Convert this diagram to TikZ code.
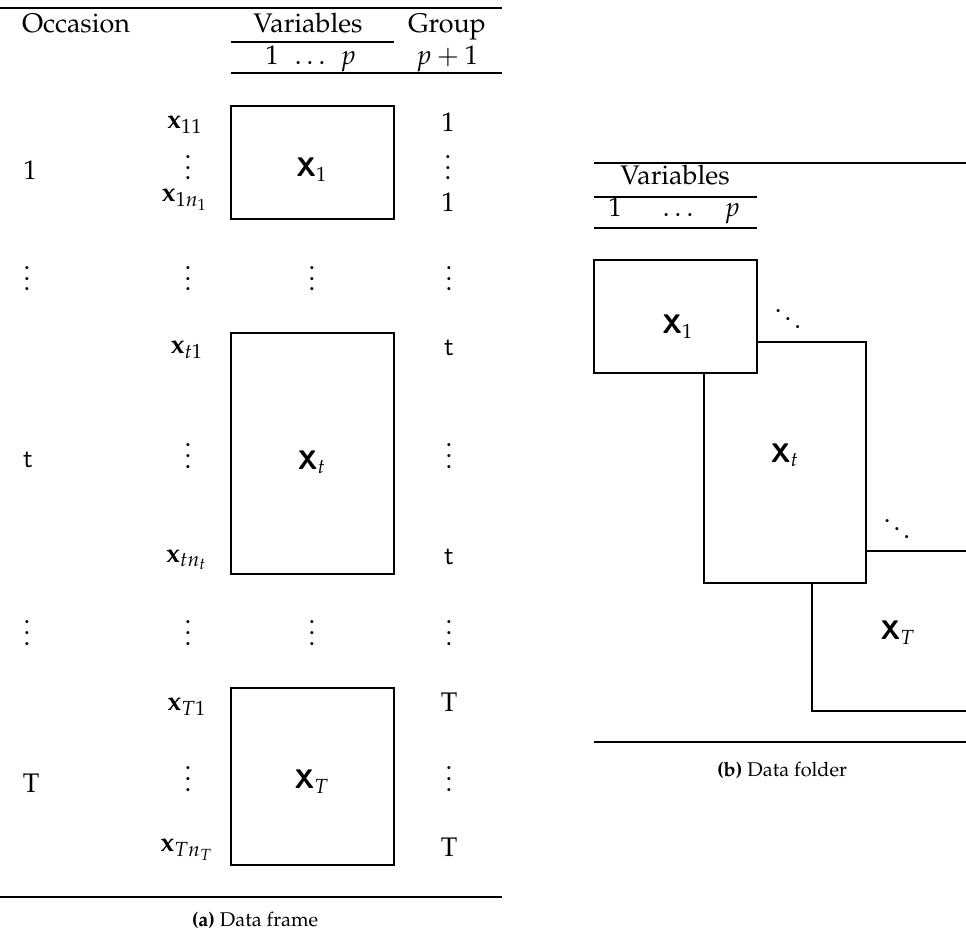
\documentclass[tikz,border=0pt]{standalone}
\usepackage[T1]{fontenc}
\usepackage{amsmath,amsfonts,amssymb}
\usepackage{mathpazo}
\usepackage{tikz}
\usetikzlibrary{fit}

\newcommand{\tvdots}{\vbox{\baselineskip4pt \lineskiplimit0pt \hbox{.}\hbox{.}\hbox{.}}}
\newcommand{\sfx}[1]{{\fontencoding{OT1}\fontfamily{cmss}\selectfont #1}}
\newcommand{\bX}{\sfx{\bfseries X}}

\begin{document}
\begin{tikzpicture}[x=0.372pt, y=-0.372pt,
		head_style/.style={inner sep=0pt, anchor=base},
		cell_style/.style={inner sep=0pt},
		dots_style/.style={inner sep=0pt, anchor=base},
		box_style/.style={draw=black, line width=0.45pt, fill=white, inner sep=0pt},
		rule_style/.style={draw=black, line width=0.6pt},
		cap_style/.style={inner sep=0pt, font=\fontsize{7.4}{9}\selectfont}]

		\useasboundingbox (0,0) rectangle (966,931);

		% (a) data frame
		\node[head_style] (hocc) at (76,33)  {Occasion};
		\node[head_style] (hvar) at (308,33)  {Variables};
		\node[head_style] (hgrp) at (447,33)  {Group};
		\node[head_style] (hv1) at (272,65)  {$1$};
		\node[head_style] (hvd) at (310,65)  {$\ldots$};
		\node[head_style] (hvp) at (348,65)  {$p$};
		\node[head_style] (hgp) at (447,65)  {$p+1$};

		\node[box_style, fit={(231,106) (394,219)}] (a1) {};
		\node[box_style, fit={(231,333) (394,574)}] (at) {};
		\node[box_style, fit={(231,688) (394,865)}] (aT) {};
		\node[cell_style] (la1) at (312,170)  {\bX$_1$};
		\node[cell_style] (lat) at (312,462)  {\bX$_t$};
		\node[cell_style] (laT) at (312,782)  {\bX$_T$};

		\node[cell_style] (o1) at (30,170)  {1};
		\node[cell_style] (ot) at (28,460)  {\sfx{t}};
		\node[cell_style] (oT) at (31,783)  {T};

		\node[cell_style] (x11) at (185,125)  {$\mathbf{x}_{11}$};
		\node[dots_style] (x1d) at (188,180)  {\tvdots};
		\node[cell_style] (x1n) at (185,200)  {$\mathbf{x}_{1n_1}$};
		\node[cell_style] (xt1) at (187,350)  {$\mathbf{x}_{t1}$};
		\node[dots_style] (xtd) at (188,468)  {\tvdots};
		\node[cell_style] (xtn) at (187,560)  {$\mathbf{x}_{tn_t}$};
		\node[cell_style] (xT1) at (187,707)  {$\mathbf{x}_{T1}$};
		\node[dots_style] (xTd) at (188,791)  {\tvdots};
		\node[cell_style] (xTn) at (187,850)  {$\mathbf{x}_{Tn_T}$};

		\node[cell_style] (g11) at (448,122)  {1};
		\node[dots_style] (g1d) at (448,180)  {\tvdots};
		\node[cell_style] (g1n) at (448,202)  {1};
		\node[cell_style] (gt1) at (449,348)  {\sfx{t}};
		\node[dots_style] (gtd) at (449,468)  {\tvdots};
		\node[cell_style] (gtn) at (449,557)  {\sfx{t}};
		\node[cell_style] (gT1) at (449,702)  {T};
		\node[dots_style] (gTd) at (449,791)  {\tvdots};
		\node[cell_style] (gTn) at (449,847)  {T};

		\node[dots_style] (r1a) at (27,291)  {\tvdots};
		\node[dots_style] (r1b) at (188,291)  {\tvdots};
		\node[dots_style] (r1c) at (312,291)  {\tvdots};
		\node[dots_style] (r1d) at (449,291)  {\tvdots};
		\node[dots_style] (r2a) at (27,645)  {\tvdots};
		\node[dots_style] (r2b) at (188,645)  {\tvdots};
		\node[dots_style] (r2c) at (312,645)  {\tvdots};
		\node[dots_style] (r2d) at (449,645)  {\tvdots};

		\coordinate (ta0) at (0,8);
		\coordinate (ta1) at (502,8);
		\coordinate (ca0) at (231,42);
		\coordinate (ca1) at (394,42);
		\coordinate (ma0) at (231,73);
		\coordinate (ma1) at (502,73);
		\coordinate (ba0) at (0,897);
		\coordinate (ba1) at (502,897);
		\draw[rule_style] (ta0) -- (ta1);
		\draw[rule_style, line width=0.45pt] (ca0) -- (ca1);
		\draw[rule_style] (ma0) -- (ma1);
		\draw[rule_style] (ba0) -- (ba1);

		\node[cap_style] (capa) at (255,920)  {\textbf{(a)} Data frame};

		% (b) data folder
		\node[head_style] (fvar) at (675,185)  {Variables};
		\node[head_style] (fv1) at (615,217)  {$1$};
		\node[head_style] (fvd) at (678,217)  {$\ldots$};
		\node[head_style] (fvp) at (732,217)  {$p$};

		\begin{scope}
		\clip (0,0) rectangle (966,931);
		\node[box_style, fit={(812,551) (1000,711)}] (fT) {};
		\end{scope}
		\node[box_style, fit={(704,342) (866,583)}] (ft) {};
		\node[box_style, fit={(594,260) (757,373)}] (f1) {};
		\node[cell_style] (lf1) at (678,327)  {\bX$_1$};
		\node[cell_style] (lft) at (785,455)  {\bX$_t$};
		\node[cell_style] (lfT) at (898,633)  {\bX$_T$};
		\node[dots_style] (fd1) at (788,331)  {$\ddots$};
		\node[dots_style] (fd2) at (897,541)  {$\ddots$};

		\coordinate (tb0) at (594,163);
		\coordinate (tb1) at (966,163);
		\coordinate (cb0) at (594,197);
		\coordinate (cb1) at (757,197);
		\coordinate (mb0) at (594,228);
		\coordinate (mb1) at (757,228);
		\coordinate (bb0) at (594,742);
		\coordinate (bb1) at (966,742);
		\draw[rule_style] (tb0) -- (tb1);
		\draw[rule_style, line width=0.45pt] (cb0) -- (cb1);
		\draw[rule_style] (mb0) -- (mb1);
		\draw[rule_style] (bb0) -- (bb1);

		\node[cap_style] (capb) at (782,770)  {\textbf{(b)} Data folder};
		\end{tikzpicture}
\end{document}
